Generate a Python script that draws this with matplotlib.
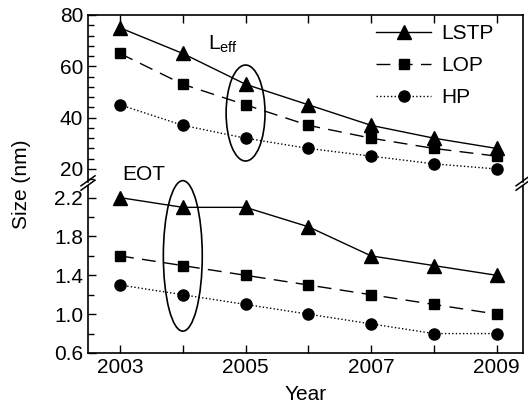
import matplotlib
matplotlib.use('Agg')
import matplotlib.pyplot as plt
from matplotlib.patches import Ellipse
from matplotlib.lines import Line2D
from matplotlib.ticker import MultipleLocator

years = [2003, 2004, 2005, 2006, 2007, 2008, 2009]
leff_lstp = [75, 65, 53, 45, 37, 32, 28]
leff_lop = [65, 53, 45, 37, 32, 28, 25]
leff_hp = [45, 37, 32, 28, 25, 22, 20]
eot_lstp = [2.2, 2.1, 2.1, 1.9, 1.6, 1.5, 1.4]
eot_lop = [1.6, 1.5, 1.4, 1.3, 1.2, 1.1, 1.0]
eot_hp = [1.3, 1.2, 1.1, 1.0, 0.9, 0.8, 0.8]
labels = ['LSTP', 'LOP', 'HP']
xticks = [2003, 2005, 2007, 2009]

plt.rcParams['font.family'] = ['Liberation Sans', 'DejaVu Sans']
plt.rcParams['mathtext.fontset'] = 'custom'
plt.rcParams['mathtext.rm'] = 'Liberation Sans'
plt.rcParams['mathtext.it'] = 'Liberation Sans'
FS = 15

styles = [
    dict(color='black', lw=1.0, ls='-', marker='^', ms=9.5),
    dict(color='black', lw=1.0, ls=(0, (10, 6)), marker='s', ms=7),
    dict(color='black', lw=1.0, ls=(0, (1, 1.6)), marker='o', ms=8),
]

fig = plt.figure(figsize=(5.28, 4.13), dpi=100)
ax_top = fig.add_axes([0.1667, 0.5598, 0.8239, 0.4039])
ax_bot = fig.add_axes([0.1667, 0.1453, 0.8239, 0.4044])

for ax, series in ((ax_top, (leff_lstp, leff_lop, leff_hp)),
                   (ax_bot, (eot_lstp, eot_lop, eot_hp))):
    for vals, st, lab in zip(series, styles, labels):
        ax.plot(years, vals, label=lab, clip_on=False, **st)
    ax.set_xlim(2002.49, 2009.42)
    ax.xaxis.set_major_locator(MultipleLocator(2))
    ax.xaxis.set_minor_locator(MultipleLocator(1))
    ax.tick_params(which='both', direction='in', labelsize=FS, width=1)
    ax.tick_params(which='major', length=6)
    ax.tick_params(which='minor', length=4)
    ax.tick_params(axis='x', which='minor', length=6)
    for s in ax.spines.values():
        s.set_linewidth(1.2)

ax_top.set_ylim(15, 80)
ax_top.yaxis.set_major_locator(MultipleLocator(20))
ax_top.yaxis.set_minor_locator(MultipleLocator(4))
ax_top.spines['bottom'].set_visible(False)
ax_top.tick_params(axis='x', which='both', bottom=False, top=True, labelbottom=False)
ax_top.set_yticks([20, 40, 60, 80])

ax_bot.set_ylim(0.6, 2.32)
ax_bot.yaxis.set_major_locator(MultipleLocator(0.4))
ax_bot.yaxis.set_minor_locator(MultipleLocator(0.2))
ax_bot.set_yticks([0.6, 1.0, 1.4, 1.8, 2.2])
ax_bot.set_yticklabels(['0.6', '1.0', '1.4', '1.8', '2.2'])
ax_bot.spines['top'].set_visible(False)
ax_bot.set_xticks(xticks)
ax_bot.set_xticklabels([str(x) for x in xticks])
ax_bot.set_xlabel('Year', fontsize=FS, labelpad=6)

ax_top.add_patch(Ellipse((2005, 41.8), 0.62, 37.4, fill=False, ec='black', lw=1.2))
ax_bot.add_patch(Ellipse((2004, 1.6), 0.62, 1.55, fill=False, ec='black', lw=1.2,
                         clip_on=False))

ax_top.text(2004.4, 66.4, r'L$_{\mathrm{eff}}$', fontsize=FS, ha='left', va='baseline')
ax_top.text(2003.03, 15.8, 'EOT', fontsize=FS, ha='left', va='baseline')

ax_top.legend(loc='upper right', bbox_to_anchor=(0.962, 1.02), frameon=False,
              fontsize=FS, handlelength=2.65, handletextpad=0.5,
              labelspacing=0.62, numpoints=1, borderaxespad=0.2)

fig.text(0.04, (0.1453 + 0.9637) / 2, 'Size (nm)', rotation=90, fontsize=FS,
         ha='center', va='center')

# break marks on the y axes
for xf in (0.1667, 0.1667 + 0.8239):
    for dy in (-2.2, 2.2):
        yc = (183 + dy) / 413
        fig.add_artist(Line2D([xf - 7 / 528, xf + 7 / 528],
                              [1 - yc - 5 / 413, 1 - yc + 5 / 413],
                              color='black', lw=1.1))

fig.savefig('out.png', dpi=100)
